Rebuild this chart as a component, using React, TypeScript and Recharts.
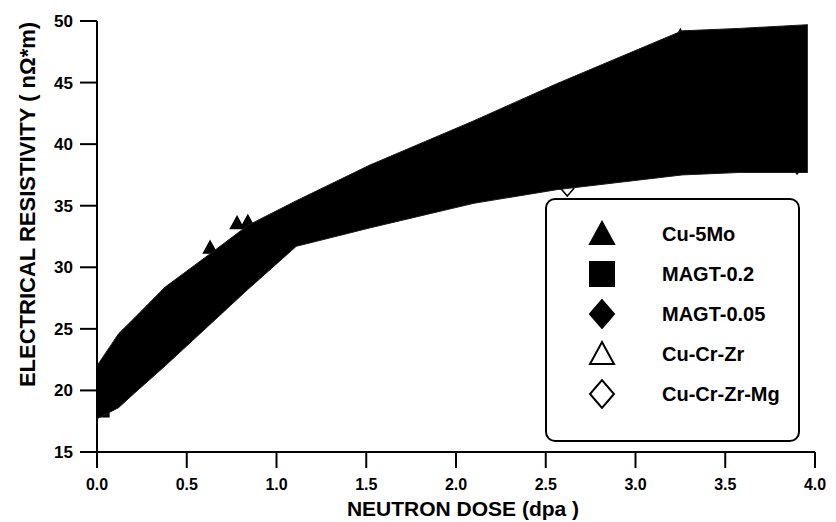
import React from "react";
import { ComposedChart, Area, Scatter, XAxis, YAxis, Legend, Label } from "recharts";

// shaded scatter band
const bandDose = [0, 0.12, 0.21, 0.38, 0.64, 0.84, 1.11, 1.52, 2.1, 2.56, 3.26, 3.58, 3.96];
const bandHigh = [22.0, 24.6, 25.9, 28.4, 31.2, 33.4, 35.4, 38.3, 41.9, 44.9, 49.2, 49.4, 49.7];
const bandLow = [17.7, 18.6, 19.8, 22.0, 25.5, 28.2, 31.7, 33.2, 35.2, 36.3, 37.5, 37.7, 37.7];

// individual alloys
const cu5MoDose = [0.0, 0.63, 0.78, 0.84, 3.25];
const cu5MoRes = [19.8, 31.6, 33.6, 33.7, 48.8];
const magt02Dose = [0.0, 0.03];
const magt02Res = [18.6, 18.4];
const magt005Dose = [0.0, 3.9];
const magt005Res = [19.3, 38.2];
const cuCrZrDose = [0.0, 0.03];
const cuCrZrRes = [20.3, 19.6];
const cuCrZrMgDose = [0.0, 2.62];
const cuCrZrMgRes = [21.4, 36.4];

const xTicks = [0, 0.5, 1, 1.5, 2, 2.5, 3, 3.5, 4];
const yTicks = [15, 20, 25, 30, 35, 40, 45, 50];

const FONT = '"Liberation Sans", Arial, sans-serif';

const bandRows = bandDose.map((dose, i) => ({ dose, low: bandLow[i], high: bandHigh[i] }));
const rows = (dose: number[], res: number[]) => dose.map((d, i) => ({ dose: d, r: res[i] }));

type Kind = "triangle" | "square" | "diamond";

const series: { name: string; kind: Kind; filled: boolean; data: { dose: number; r: number }[] }[] = [
  { name: "Cu-5Mo", kind: "triangle", filled: true, data: rows(cu5MoDose, cu5MoRes) },
  { name: "MAGT-0.2", kind: "square", filled: true, data: rows(magt02Dose, magt02Res) },
  { name: "MAGT-0.05", kind: "diamond", filled: true, data: rows(magt005Dose, magt005Res) },
  { name: "Cu-Cr-Zr", kind: "triangle", filled: false, data: rows(cuCrZrDose, cuCrZrRes) },
  { name: "Cu-Cr-Zr-Mg", kind: "diamond", filled: false, data: rows(cuCrZrMgDose, cuCrZrMgRes) },
];

function markerPath(kind: Kind, cx: number, cy: number, s: number) {
  const h = s / 2;
  if (kind === "triangle") {
    return `M${cx},${cy - s * 0.5} L${cx + h},${cy + s * 0.42} L${cx - h},${cy + s * 0.42} Z`;
  }
  if (kind === "square") {
    return `M${cx - h},${cy - h} L${cx + h},${cy - h} L${cx + h},${cy + h} L${cx - h},${cy + h} Z`;
  }
  return `M${cx},${cy - s * 0.58} L${cx + h},${cy} L${cx},${cy + s * 0.58} L${cx - h},${cy} Z`;
}

const makeShape = (kind: Kind, filled: boolean) => (p: any) => (
  <path
    d={markerPath(kind, p.cx, p.cy, 13)}
    fill={filled ? "#000" : "#fff"}
    stroke="#000"
    strokeWidth={1.5}
  />
);

const YTitle = (props: any) => {
  const { x, y, height } = props.viewBox;
  const cx = x + 27;
  const cy = y + height / 2 - 32;
  return (
    <text
      x={cx}
      y={cy}
      transform={`rotate(-90 ${cx} ${cy})`}
      textAnchor="middle"
      dominantBaseline="central"
      fill="#000"
      fontSize={22}
      fontWeight={700}
      fontFamily={FONT}
    >
      ELECTRICAL RESISTIVITY ( nΩ*m)
    </text>
  );
};

const LegendBox = () => (
  <div
    style={{
      width: 251,
      height: 226,
      border: "2px solid #000",
      borderRadius: 10,
      background: "#fff",
      boxSizing: "content-box",
      paddingTop: 14,
    }}
  >
    {series.map((s) => (
      <div key={s.name} style={{ display: "flex", alignItems: "center", height: 40 }}>
        <svg width={30} height={30} style={{ marginLeft: 40 }}>
          <path
            d={markerPath(s.kind, 15, 15, 24)}
            fill={s.filled ? "#000" : "#fff"}
            stroke="#000"
            strokeWidth={2}
          />
        </svg>
        <span
          style={{
            marginLeft: 45,
            fontFamily: FONT,
            fontWeight: 700,
            fontSize: 20,
            color: "#000",
          }}
        >
          {s.name}
        </span>
      </div>
    ))}
  </div>
);

export default function App() {
  return (
    <div style={{ position: "absolute", left: 0, top: 0, background: "#fff" }}>
      <ComposedChart
        width={836}
        height={522}
        data={bandRows}
        margin={{ top: 21, right: 21, bottom: 0, left: 0 }}
      >
        <XAxis
          type="number"
          dataKey="dose"
          domain={[0, 4]}
          ticks={xTicks}
          interval={0}
          allowDataOverflow
          tickFormatter={(v: number) => v.toFixed(1)}
          height={70}
          tickSize={16}
          tickMargin={11}
          axisLine={{ stroke: "#000", strokeWidth: 2 }}
          tickLine={{ stroke: "#000", strokeWidth: 2 }}
          tick={{ fill: "#000", fontSize: 16, fontWeight: 700, fontFamily: FONT }}
        >
          <Label
            value="NEUTRON DOSE (dpa )"
            position="insideBottom"
            offset={6}
            dx={7}
            style={{ fill: "#000", fontSize: 21, fontWeight: 700, fontFamily: FONT }}
          />
        </XAxis>
        <YAxis
          type="number"
          dataKey="r"
          domain={[15, 50]}
          ticks={yTicks}
          interval={0}
          allowDataOverflow
          width={97}
          tickSize={17}
          tickMargin={7}
          axisLine={{ stroke: "#000", strokeWidth: 2 }}
          tickLine={{ stroke: "#000", strokeWidth: 2 }}
          tick={{ fill: "#000", fontSize: 17, fontWeight: 700, fontFamily: FONT }}
        >
          <Label content={YTitle} />
        </YAxis>
        {series.map((s) => (
          <Scatter
            key={s.name}
            name={s.name}
            data={s.data}
            dataKey="r"
            shape={makeShape(s.kind, s.filled)}
            isAnimationActive={false}
          />
        ))}
        {/* band sits on top of the markers, as in the original plot */}
        <Area
          dataKey={(d: any) => [d.low, d.high]}
          type="linear"
          fill="#000"
          fillOpacity={1}
          stroke="#1a1a1a"
          strokeWidth={1}
          dot={false}
          activeDot={false}
          legendType="none"
          zIndex={700}
          isAnimationActive={false}
        />
        <Legend
          layout="horizontal"
          verticalAlign="middle"
          align="center"
          content={LegendBox}
          wrapperStyle={{ left: 545, top: 198, width: 255, height: 230 }}
        />
      </ComposedChart>
    </div>
  );
}
